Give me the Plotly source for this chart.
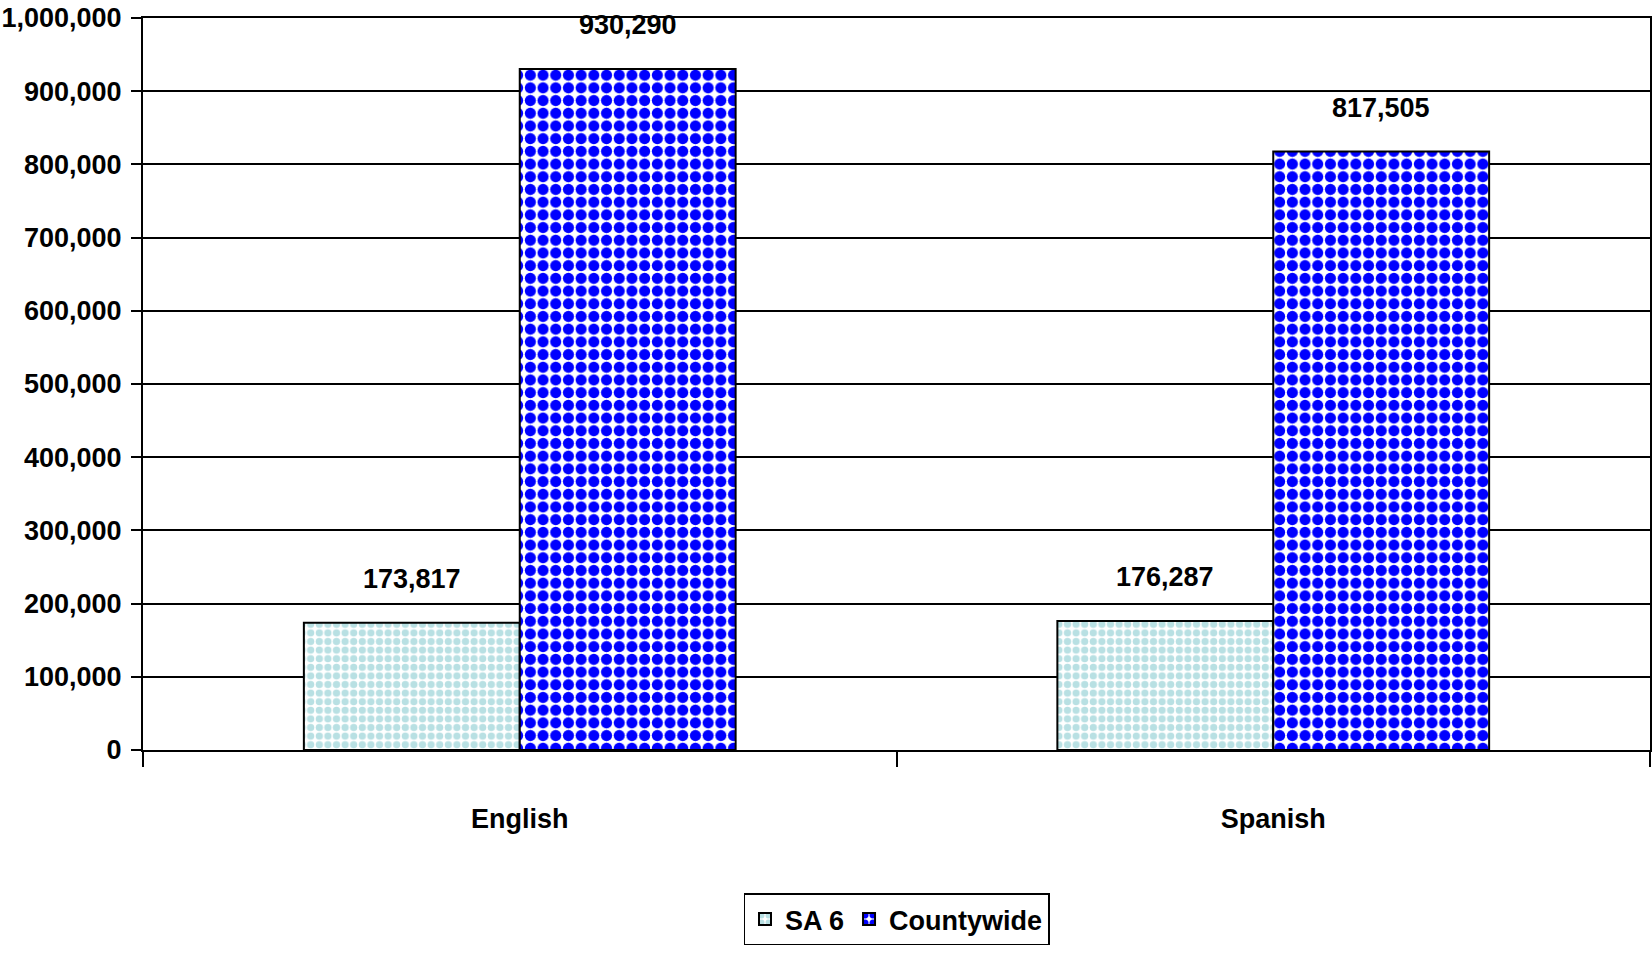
import plotly.graph_objects as go

categories = ["English", "Spanish"]
sa6_values = [173817, 176287]
countywide_values = [930290, 817505]
series_names = ["SA 6", "Countywide"]
y_tick_values = [0, 100000, 200000, 300000, 400000, 500000, 600000, 700000, 800000, 900000, 1000000]

FONT = "Liberation Sans, Arial, sans-serif"
FS = 27

def f(size=FS):
    return dict(family=FONT, size=size, color="black", weight="bold")

fig = go.Figure()
fig.add_trace(go.Bar(
    name=series_names[0], x=categories, y=sa6_values,
    marker=dict(color="white", line=dict(color="black", width=2),
                pattern=dict(shape=".", fgcolor="#B8E0E3", bgcolor="white",
                             fgopacity=1, fillmode="replace",
                             size=8.6, solidity=0.55)),
))
fig.add_trace(go.Bar(
    name=series_names[1], x=categories, y=countywide_values,
    marker=dict(color="white", line=dict(color="black", width=2),
                pattern=dict(shape=".", fgcolor="#0000FF", bgcolor="white",
                             fgopacity=1, fillmode="replace",
                             size=12.7, solidity=0.6)),
))

bargap = 0.427
half = (1 - bargap) / 4
for series, offset in ((sa6_values, -half), (countywide_values, half)):
    for i, v in enumerate(series):
        fig.add_annotation(x=i + offset, y=v, xref="x", yref="y",
                           text=f"{v:,}", showarrow=False,
                           yanchor="middle", yshift=44, font=f())

fig.update_layout(
    width=1652, height=953,
    barmode="group", bargap=bargap, bargroupgap=0,
    paper_bgcolor="white", plot_bgcolor="white",
    margin=dict(l=143, r=2, t=18, b=203),
    font=f(),
    showlegend=True,
    legend=dict(orientation="h", x=0.5, xanchor="center", y=-0.196, yanchor="top",
                bordercolor="black", borderwidth=1.5, bgcolor="white",
                font=f(), itemwidth=30, tracegroupgap=0),
)
fig.update_xaxes(
    type="category", showgrid=False, showline=True, linecolor="black", linewidth=2,
    ticks="outside", tickson="boundaries", ticklen=15, tickwidth=2, tickcolor="black",
    ticklabelstandoff=44, mirror=True, automargin=False,
    tickfont=f(),
)
fig.update_yaxes(
    range=[0, 1000000], tickvals=y_tick_values, tickformat=",",
    showgrid=True, gridcolor="black", gridwidth=1.5,
    showline=True, linecolor="black", linewidth=2, mirror=True,
    ticks="outside", ticklen=10, tickwidth=2, tickcolor="black",
    ticklabelstandoff=4, zeroline=False, automargin=False,
    tickfont=f(),
)

fig.write_html("out.html", config={"displayModeBar": False},
               post_script="document.body.style.margin='0';")
